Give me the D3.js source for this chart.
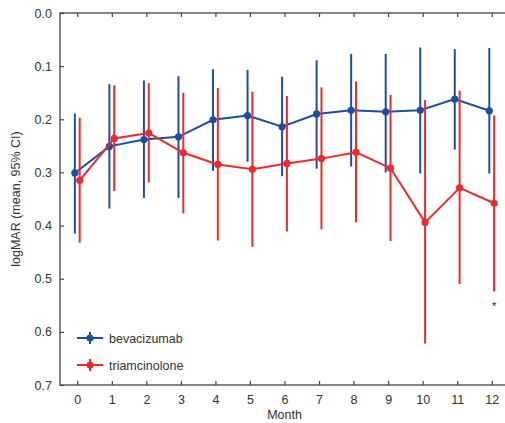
<!DOCTYPE html>
<html><head><meta charset="utf-8">
<script src="https://cdn.jsdelivr.net/npm/d3@7"></script>
<style>body{margin:0;background:#fff;}svg{display:block;font-family:"Liberation Sans",Arial,sans-serif;}</style>
</head><body><svg id="c" width="505" height="423"></svg>
<script>
const months = [0,1,2,3,4,5,6,7,8,9,10,11,12];
const bevaMean = [0.301,0.251,0.238,0.233,0.201,0.193,0.214,0.190,0.183,0.186,0.183,0.162,0.184];
const bevaLow  = [0.189,0.134,0.127,0.119,0.106,0.107,0.120,0.089,0.077,0.077,0.065,0.068,0.066];
const bevaHigh = [0.415,0.368,0.348,0.348,0.297,0.280,0.307,0.293,0.289,0.300,0.302,0.257,0.302];
const triMean = [0.315,0.236,0.226,0.263,0.285,0.294,0.283,0.274,0.262,0.292,0.394,0.329,0.358];
const triLow  = [0.197,0.136,0.132,0.150,0.141,0.148,0.156,0.140,0.129,0.154,0.164,0.146,0.193];
const triHigh = [0.432,0.335,0.319,0.377,0.428,0.440,0.411,0.407,0.394,0.429,0.622,0.510,0.524];
const yTicks = [0,0.1,0.2,0.3,0.4,0.5,0.6,0.7];
const seriesNames = ["bevacizumab","triamcinolone"];
const colors = ["#1c4fa1","#ee2a2a"];
const sigMonths = [12];

const svg = d3.select("#c");
const L=60, R=509, T=13, B=385;
const x = d3.scaleLinear().domain([-0.5,12.5]).range([L,R]);
const y = d3.scaleLinear().domain([0,0.7]).range([T,B]);
const axisCol="#444", txtCol="#333";

// frame
svg.append("rect").attr("x",L).attr("y",T).attr("width",R-L).attr("height",B-T)
  .attr("fill","none").attr("stroke",axisCol).attr("stroke-width",1.3);

// axes
const gx = svg.append("g").attr("transform",`translate(0,${B})`)
  .call(d3.axisBottom(x).tickValues(months).tickSizeInner(-4).tickSizeOuter(0).tickPadding(10));
const gxt = svg.append("g").attr("transform",`translate(0,${T})`)
  .call(d3.axisTop(x).tickValues(months).tickSizeInner(-4).tickSizeOuter(0).tickFormat(""));
const gy = svg.append("g").attr("transform",`translate(${L},0)`)
  .call(d3.axisLeft(y).tickValues(yTicks).tickSizeInner(-4).tickSizeOuter(0).tickPadding(8).tickFormat(d3.format(".1f")));
const gyr = svg.append("g").attr("transform",`translate(${R},0)`)
  .call(d3.axisRight(y).tickValues(yTicks).tickSizeInner(-4).tickSizeOuter(0).tickFormat(""));
[gx,gxt,gy,gyr].forEach(g=>{
  g.select(".domain").remove();
  g.selectAll(".tick line").attr("stroke",axisCol).attr("stroke-width",1.2);
  g.selectAll("text").attr("fill",txtCol).style("font-size","12.5px").style("font-family","'Liberation Sans',Arial,sans-serif");
});

// axis titles
svg.append("text").attr("x",(x(0)+x(12))/2).attr("y",419).attr("text-anchor","middle")
  .attr("fill",txtCol).style("font-size","12.5px").text("Month");
svg.append("text").attr("transform",`translate(20,${(T+B)/2}) rotate(-90)`).attr("text-anchor","middle")
  .attr("fill",txtCol).style("font-size","12.5px").text("logMAR (mean, 95% CI)");

const series = [
  {name:seriesNames[0], mean:bevaMean, lo:bevaLow, hi:bevaHigh, color:colors[0], off:-0.07},
  {name:seriesNames[1], mean:triMean, lo:triLow, hi:triHigh, color:colors[1], off:0.07}
];
const line = d3.line().x(d=>x(d.m)).y(d=>y(d.v));
series.forEach(s=>{
  const pts = months.map((m,i)=>({m:m+s.off, v:s.mean[i], lo:s.lo[i], hi:s.hi[i]}));
  const g = svg.append("g");
  g.selectAll("line.err").data(pts).join("line").attr("class","err")
    .attr("x1",d=>x(d.m)).attr("x2",d=>x(d.m)).attr("y1",d=>y(d.lo)).attr("y2",d=>y(d.hi))
    .attr("stroke",s.color).attr("stroke-width",2);
  g.append("path").datum(pts).attr("d",line).attr("fill","none").attr("stroke",s.color).attr("stroke-width",2);
  g.selectAll("circle").data(pts).join("circle").attr("cx",d=>x(d.m)).attr("cy",d=>y(d.v)).attr("r",3.6).attr("fill",s.color);
});

// significance marker
svg.selectAll("text.sig").data(sigMonths).join("text").attr("class","sig")
  .attr("x",d=>x(d+0.07)).attr("y",310).attr("text-anchor","middle")
  .attr("fill","#222").style("font-size","11px").text("*");

// legend
const lg = svg.append("g");
series.forEach((s,i)=>{
  const ly = 338 + i*27;
  lg.append("line").attr("x1",77).attr("x2",103).attr("y1",ly).attr("y2",ly).attr("stroke",s.color).attr("stroke-width",2);
  lg.append("line").attr("x1",90).attr("x2",90).attr("y1",ly-6).attr("y2",ly+6).attr("stroke",s.color).attr("stroke-width",2);
  lg.append("circle").attr("cx",90).attr("cy",ly).attr("r",3.6).attr("fill",s.color);
  lg.append("text").attr("x",109).attr("y",ly+4.5).attr("fill",txtCol).style("font-size","12.5px").text(s.name);
});
</script></body></html>
